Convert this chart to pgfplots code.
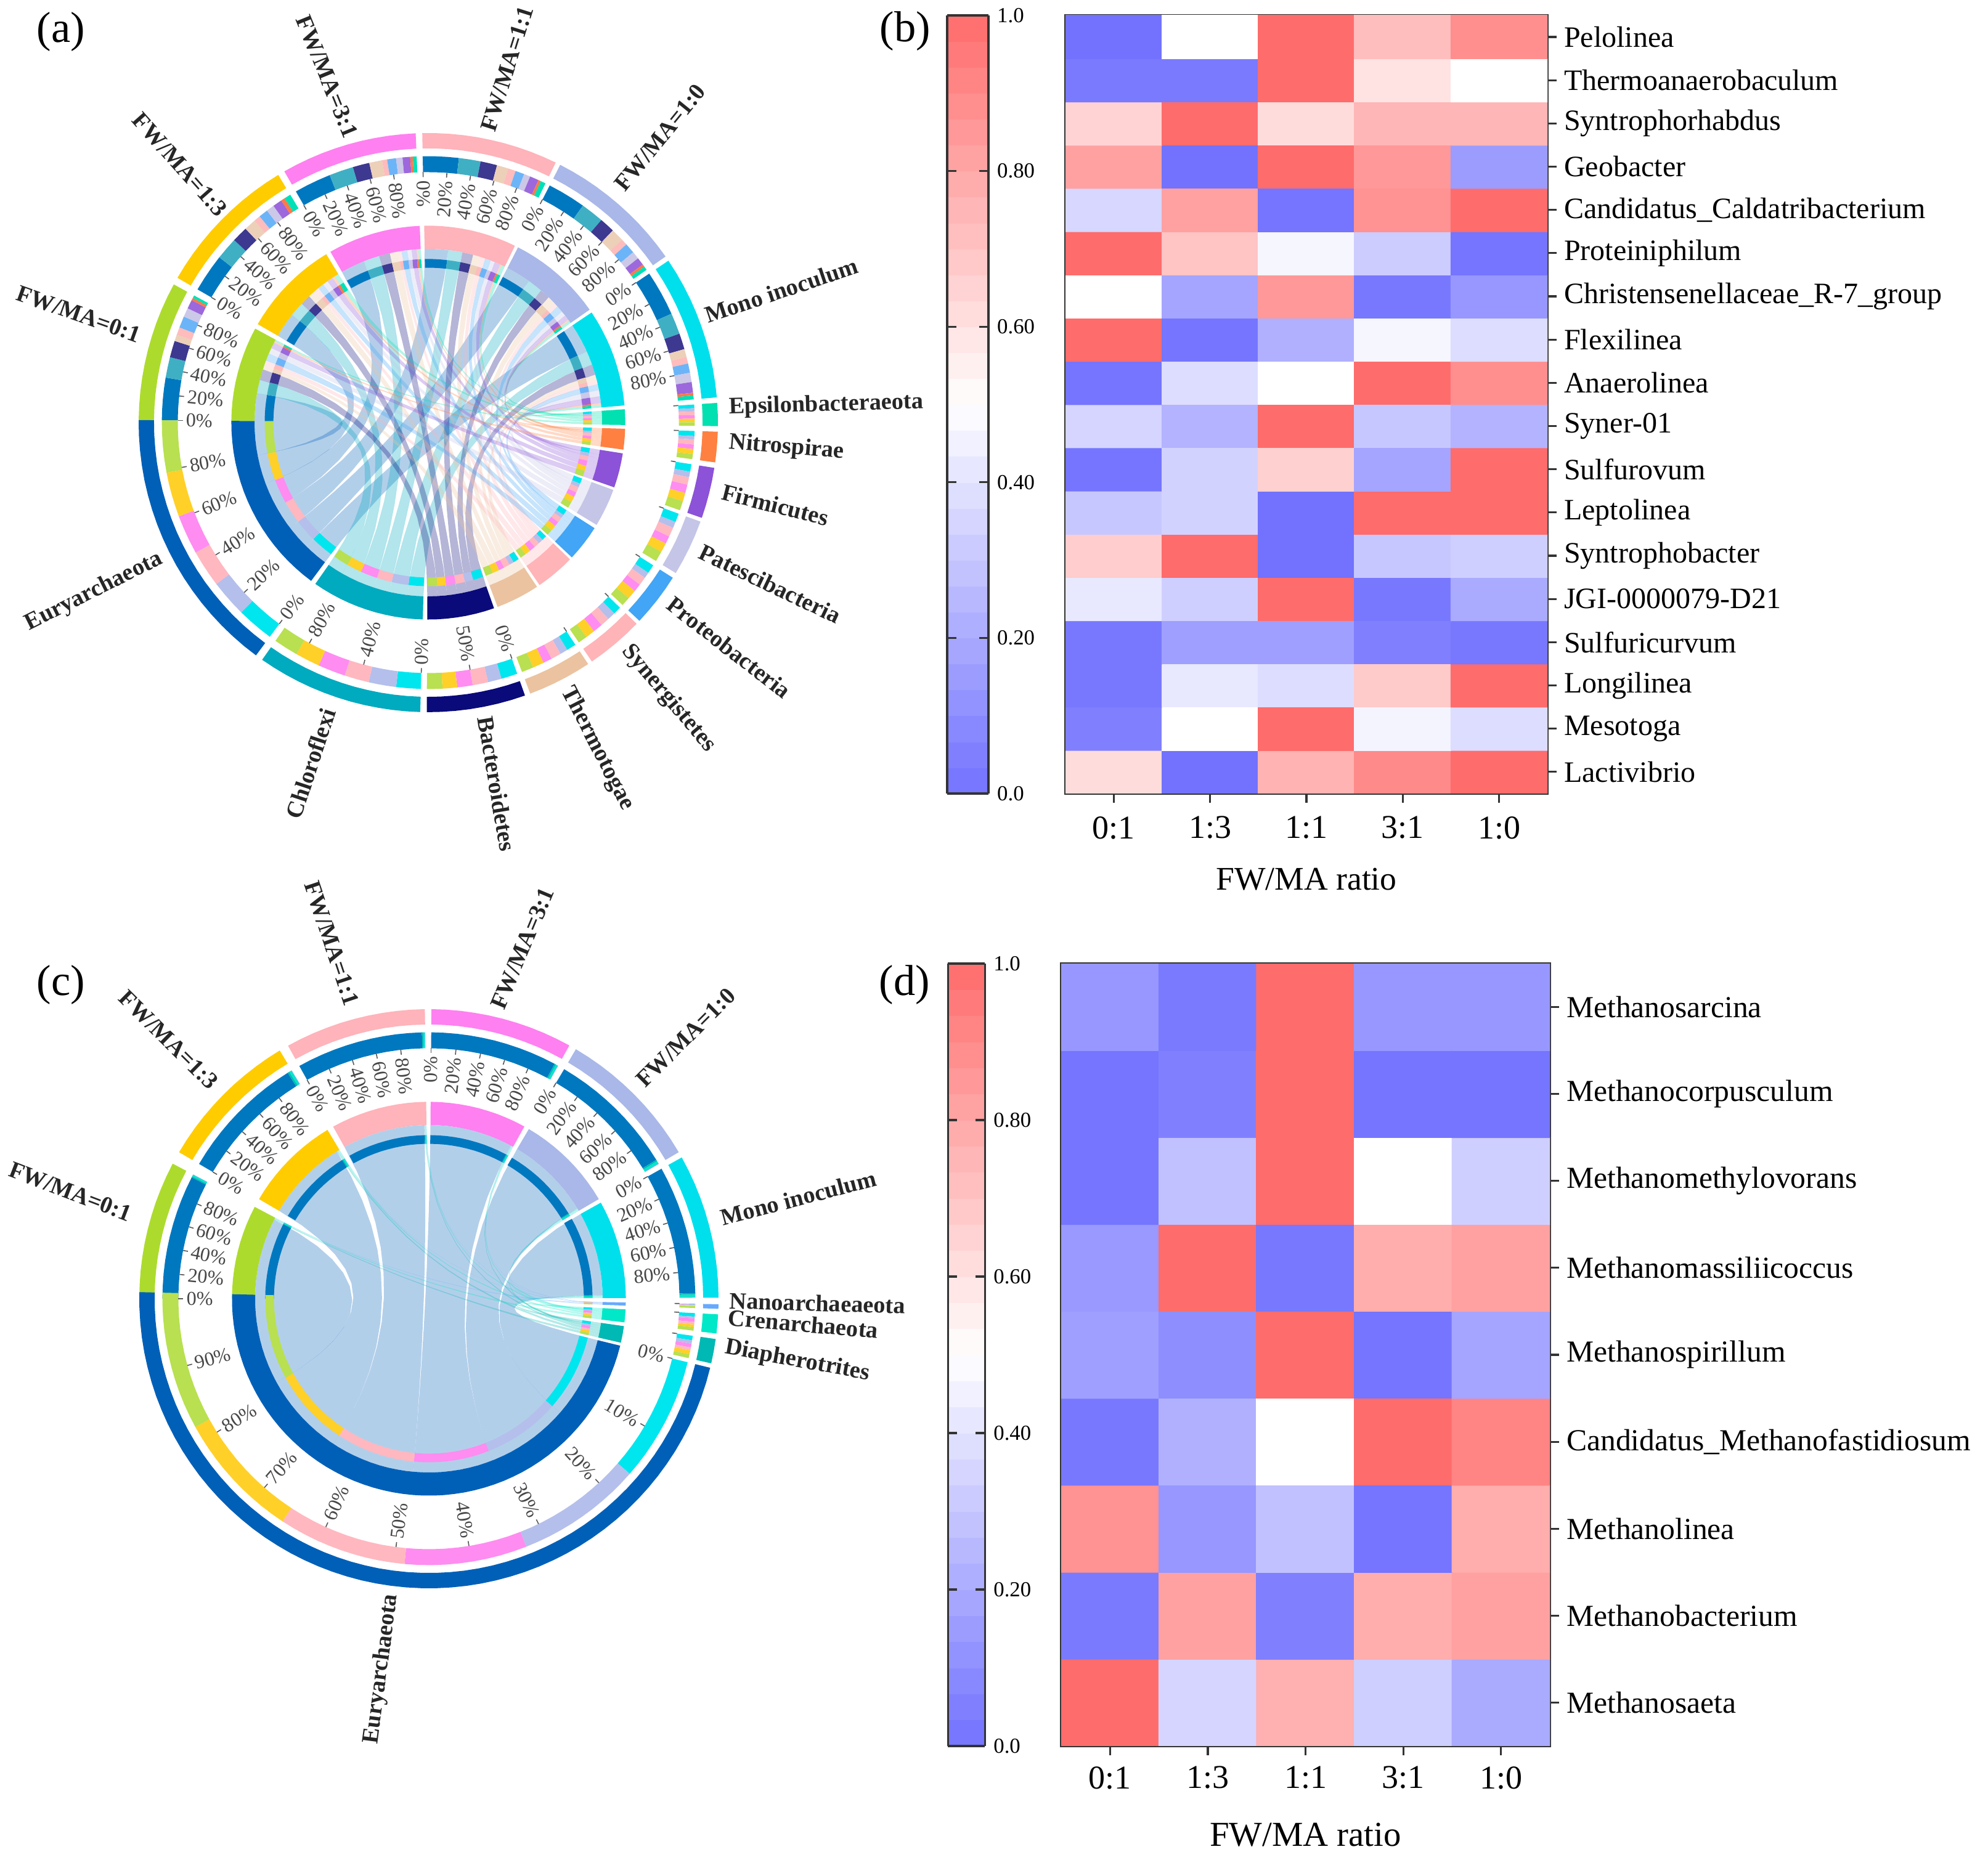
\documentclass[border=0pt]{standalone}
\usepackage{fontspec}
\setmainfont{Liberation Serif}
\usepackage{pgfplots}
\pgfplotsset{compat=1.18}

% sector colours
\definecolor{cMo}{HTML}{00E0EC}\definecolor{cT10}{HTML}{A9B8E8}\definecolor{cT11}{HTML}{FFB3BA}
\definecolor{cT31}{HTML}{FF80F0}\definecolor{cT13}{HTML}{FFCC00}\definecolor{cT01}{HTML}{ADDB2D}
\definecolor{cE}{HTML}{0060B8}\definecolor{cC}{HTML}{00AABF}\definecolor{cB}{HTML}{0A0A7A}
\definecolor{cTh}{HTML}{EBC3A0}\definecolor{cSy}{HTML}{FFB4B8}\definecolor{cPr}{HTML}{42A5F5}
\definecolor{cPa}{HTML}{C5C5E8}\definecolor{cFi}{HTML}{8C52D8}\definecolor{cNi}{HTML}{FF8040}
\definecolor{cEp}{HTML}{00E0B0}\definecolor{cDi}{HTML}{00B8B4}\definecolor{cCr}{HTML}{00E8C8}
\definecolor{cNa}{HTML}{66AAFF}
% sub-segment colours (inner and second ring)
\definecolor{sMo}{HTML}{00E6EE}\definecolor{sT10}{HTML}{B4BFEC}\definecolor{sT11}{HTML}{FFB8C0}
\definecolor{sT31}{HTML}{FF8CF0}\definecolor{sT13}{HTML}{FFD028}\definecolor{sT01}{HTML}{B8E050}
\definecolor{sE}{HTML}{0078C0}\definecolor{sC}{HTML}{3FB0C4}\definecolor{sB}{HTML}{3D3890}
\definecolor{sTh}{HTML}{ECD0B8}\definecolor{sSy}{HTML}{FFBCBC}\definecolor{sPr}{HTML}{6CB4F8}
\definecolor{sPa}{HTML}{CCC8E8}\definecolor{sFi}{HTML}{9C68DC}\definecolor{sNi}{HTML}{FF7A48}
\definecolor{sEp}{HTML}{00E0B8}\definecolor{sDi}{HTML}{00BCB4}\definecolor{sCr}{HTML}{00E8C8}
\definecolor{sNa}{HTML}{66AAFF}
\definecolor{axcol}{HTML}{333333}

\tikzset{
  pctlabel/.style={inner sep=0pt,font=\fontsize{8}{9}\selectfont,text=black!72},
  seclabel/.style={inner sep=0pt,font=\fontsize{9.6}{11}\selectfont\bfseries,text=black!85},
  panel/.style={inner sep=0pt,font=\fontsize{17.6}{20}\selectfont},
}
\pgfplotsset{
  canvas/.style={at={(0pt,0pt)},anchor=south west,scale only axis,width=806.5pt,height=754.75pt,
    xmin=0,xmax=3226,ymin=0,ymax=3019,axis lines=none,clip=false},
  heat/.style={anchor=south west,scale only axis,xmin=-.5,xmax=4.5,
    colormap={bwr}{rgb255=(114,114,255) rgb255=(255,255,255) rgb255=(255,108,108)},
    point meta min=0,point meta max=1,
    xtick={0,...,4},xticklabels={0:1,1:3,1:1,3:1,1:0},
    xtick pos=bottom,ytick pos=right,yticklabel pos=right,tick align=outside,
    major tick length=3.75pt,
    tick style={draw=axcol,line width=.8pt},
    axis line style={draw=axcol,line width=.8pt},
    x tick label style={font=\fontsize{13.5}{15}\selectfont,yshift=-2pt},
    y tick label style={font=\fontsize{12}{14}\selectfont,xshift=-.5pt},
    xlabel={FW/MA ratio},
    xlabel style={font=\fontsize{13.4}{15}\selectfont,yshift=-5pt},
    colorbar sampled,
  },
  cbar/.style={ytick={0,.2,.4,.6,.8,1},yticklabels={0.0,0.20,0.40,0.60,0.80,1.0},
    samples=31,
    major tick length=3.75pt,
    tick style={draw=axcol,line width=.8pt},
    axis line style={draw=axcol,line width=.8pt},
    y tick label style={font=\fontsize{8.7}{10}\selectfont},
  },
}

\newcount\kk
\newcount\ii
\def\A#1#2{\csname a#1/#2\endcsname}
\def\B#1#2{\csname b#1/#2\endcsname}
\def\Sa#1{\csname s#1\endcsname}
\def\Se#1{\csname e#1\endcsname}

% sector: id, start angle, end angle (clockwise), shares of its sub-segments
\newcommand\defsector[4]{%
  \expandafter\xdef\csname s#1\endcsname{#2}%
  \expandafter\xdef\csname e#1\endcsname{#3}%
  \gdef\tot{0}\foreach \v in {#4}{\xdef\tot{\fpeval{\tot+\v}}}%
  \gdef\cum{0}\global\ii=0
  \foreach \v in {#4}{%
    \global\advance\ii by 1
    \expandafter\xdef\csname a#1/\the\ii\endcsname{\fpeval{round((#2)+((#3)-(#2))*\cum/\tot,3)}}%
    \xdef\cum{\fpeval{\cum+\v}}%
    \expandafter\xdef\csname b#1/\the\ii\endcsname{\fpeval{round((#2)+((#3)-(#2))*\cum/\tot,3)}}%
  }%
}
\newcommand\arcpts[3]{%
  \edef\nn{\fpeval{max(1,ceil(abs((#2)-(#1))/3))}}%
  \kk=0
  \loop
    \edef\pts{\pts(\fpeval{round(\cx+(#3)*\R*cosd((#1)+((#2)-(#1))*\the\kk/\nn),1)},\fpeval{round(\cy+(#3)*\R*sind((#1)+((#2)-(#1))*\the\kk/\nn),1)}) }%
  \ifnum\kk<\nn\relax\advance\kk by 1 \repeat
}
% quadratic curve from angle #1 to angle #2 with the centre as control point
\newcommand\bezpts[2]{%
  \kk=1
  \loop
    \edef\uu{\fpeval{\the\kk/12}}%
    \edef\pts{\pts(\fpeval{round(\cx+.6*\R*((1-\uu)^2*cosd(#1)+\uu^2*cosd(#2)),1)},\fpeval{round(\cy+.6*\R*((1-\uu)^2*sind(#1)+\uu^2*sind(#2)),1)}) }%
  \ifnum\kk<11 \advance\kk by 1 \repeat
}
\newcommand\ring[5]{%
  \def\pts{}\arcpts{#1}{#2}{#4}\arcpts{#2}{#1}{#3}%
  \edef\temp{\noexpand\addplot[draw=none,fill=#5,forget plot] coordinates {\pts};}\temp
}
\newcommand\chord[5]{%
  \def\pts{}\arcpts{#1}{#2}{.6}\bezpts{#2}{#3}\arcpts{#3}{#4}{.6}\bezpts{#4}{#1}%
  \edef\temp{\noexpand\addplot[draw=none,fill=#5,fill opacity=.3,forget plot] coordinates {\pts};}\temp
}
\newcommand\drawpanel[2]{%
  \foreach \j/\ph in {#2}{\foreach \i/\tr in {#1}{%
    \chord{\A{\tr}{\j}}{\B{\tr}{\j}}{\A{\ph}{\i}}{\B{\ph}{\i}}{c\ph}}}%
  \foreach \j/\ph in {#2}{\foreach \i/\tr in {#1}{%
    \ring{\A{\tr}{\j}}{\B{\tr}{\j}}{.535}{.565}{s\ph}%
    \ring{\A{\tr}{\j}}{\B{\tr}{\j}}{.865}{.92}{s\ph}%
    \ring{\A{\ph}{\i}}{\B{\ph}{\i}}{.535}{.565}{s\tr}%
    \ring{\A{\ph}{\i}}{\B{\ph}{\i}}{.865}{.92}{s\tr}}}%
  \foreach \j/\ph in {#1,#2}{%
    \ring{\Sa{\ph}}{\Se{\ph}}{.60}{.68}{c\ph}%
    \ring{\Sa{\ph}}{\Se{\ph}}{.947}{1}{c\ph}}%
}
% tick on the second ring: sector, fraction, label (empty for none)
\newcommand\pct[3]{%
  \edef\tang{\fpeval{\Sa{#1}+(\Se{#1}-\Sa{#1})*#2}}%
  \edef\temp{\noexpand\addplot[draw=black!65,line width=.4pt,forget plot] coordinates {%
    (\fpeval{round(\cx+.865*\R*cosd(\tang),1)},\fpeval{round(\cy+.865*\R*sind(\tang),1)})
    (\fpeval{round(\cx+.848*\R*cosd(\tang),1)},\fpeval{round(\cy+.848*\R*sind(\tang),1)})};}\temp
  \if\relax\detokenize{#3}\relax\else
    \ifnum\fpeval{cosd(\tang)<0}=1
      \edef\rot{\fpeval{round(\tang-180,2)}}\def\anc{west}%
    \else
      \edef\rot{\fpeval{round(\tang,2)}}\def\anc{east}%
    \fi
    \edef\temp{\noexpand\node[pctlabel,rotate=\rot,anchor=\anc] at (axis cs:\fpeval{round(\cx+.838*\R*cosd(\tang),1)},\fpeval{round(\cy+.838*\R*sind(\tang),1)}) {#3\noexpand\%};}\temp
  \fi
}
\newcommand\fivepct[1]{\pct{#1}{0}{0}\pct{#1}{.2}{20}\pct{#1}{.4}{40}\pct{#1}{.6}{60}\pct{#1}{.8}{80}}
% radial name of a sector: id, text, shift x, shift y (px), extra rotation
\newcommand\seclab[5]{%
  \edef\tang{\fpeval{(\Sa{#1}+\Se{#1})/2}}%
  \ifnum\fpeval{cosd(\tang)<0}=1
    \edef\rot{\fpeval{round(\tang+180+(#5),2)}}\def\anc{east}%
  \else
    \edef\rot{\fpeval{round(\tang+(#5),2)}}\def\anc{west}%
  \fi
  \edef\temp{\noexpand\node[seclabel,rotate=\rot,anchor=\anc] at (axis cs:\fpeval{round(\cx+1.028*\R*cosd(\tang)+(#3),1)},\fpeval{round(\cy+1.028*\R*sind(\tang)+(#4),1)}) {\unexpanded{#2}};}\temp
}

\begin{document}
\begin{tikzpicture}
\path[use as bounding box] (0pt,0pt) rectangle (806.5pt,754.75pt);

% ---------- panel (a)
\defsector{Mo}{34}{5}{.34,.16,.12,.06,.05,.07,.07,.08,.02,.03}
\defsector{T10}{62.9}{35}{.30,.18,.12,.10,.05,.08,.06,.06,.02,.03}
\defsector{T11}{91.2}{63.9}{.28,.17,.13,.09,.06,.07,.05,.07,.02,.04}
\defsector{T31}{119.8}{92.5}{.29,.19,.13,.10,.04,.07,.05,.06,.02,.03}
\defsector{T13}{150}{121.2}{.29,.17,.12,.09,.05,.07,.06,.07,.03,.05}
\defsector{T01}{179.5}{151.5}{.33,.16,.13,.05,.06,.09,.07,.07,.02,.02}
\defsector{E}{-126.5}{-180.5}{.15,.15,.15,.16,.18,.21}
\defsector{C}{-91.6}{-125}{.16,.18,.16,.18,.16,.16}
\defsector{B}{-70.5}{-90.3}{.18,.15,.17,.17,.16,.17}
\defsector{Th}{-56.5}{-69.4}{.16,.13,.17,.15,.19,.20}
\defsector{Sy}{-44}{-55.6}{.15,.15,.17,.18,.18,.17}
\defsector{Pr}{-32.4}{-43.2}{.18,.12,.17,.16,.19,.18}
\defsector{Pa}{-20}{-31.3}{.17,.12,.18,.15,.18,.20}
\defsector{Fi}{-9}{-19.2}{.16,.12,.16,.18,.18,.20}
\defsector{Ni}{-1.8}{-7.9}{.18,.12,.18,.16,.18,.18}
\defsector{Ep}{3.9}{-.7}{.17,.15,.17,.17,.17,.17}

\begin{axis}[canvas]
\def\cx{695}\def\cy{2333}\def\R{470}
\drawpanel{1/Mo,2/T10,3/T11,4/T31,5/T13,6/T01}{1/E,2/C,3/B,4/Th,5/Sy,6/Pr,7/Pa,8/Fi,9/Ni,10/Ep}
\fivepct{Mo}\fivepct{T10}\fivepct{T11}\fivepct{T31}\fivepct{T13}\fivepct{T01}\fivepct{E}
\pct{C}{0}{0}\pct{C}{.4}{40}\pct{C}{.8}{80}
\pct{B}{0}{0}\pct{B}{.5}{50}
\pct{Th}{0}{}\pct{Sy}{0}{}\pct{Pr}{0}{}\pct{Pa}{0}{}\pct{Fi}{0}{}\pct{Ni}{0}{}\pct{Ep}{0}{}
\seclab{Mo}{Mono inoculum}{-6}{12}{-1}
\seclab{T10}{FW/MA=1:0}{-8}{16}{2}
\seclab{T11}{FW/MA=1:1}{-8}{2}{-5}
\seclab{T31}{FW/MA=3:1}{10}{0}{6}
\seclab{T13}{FW/MA=1:3}{12}{2}{-4}
\seclab{T01}{FW/MA=0:1}{0}{20}{-5}
\seclab{E}{Euryarchaeota}{0}{-4}{0}
\seclab{C}{Chloroflexi}{-10}{-6}{0}
\seclab{B}{Bacteroidetes}{12}{0}{0}
\seclab{Th}{Thermotogae}{4}{0}{0}
\seclab{Sy}{Synergistetes}{8}{4}{0}
\seclab{Pr}{Proteobacteria}{10}{6}{0}
\seclab{Pa}{Patescibacteria}{6}{2}{0}
\seclab{Fi}{Firmicutes}{8}{6}{0}
\seclab{Ni}{Nitrospirae}{6}{8}{0}
\seclab{Ep}{Epsilonbacteraeota}{4}{10}{0}
\node[panel] at (axis cs:99,2967) {(a)};
\node[panel] at (axis cs:1469,2968) {(b)};
\node[panel] at (axis cs:99,1420) {(c)};
\node[panel] at (axis cs:1468,1420) {(d)};
\end{axis}

% ---------- panel (c)
\defsector{Mo}{29.2}{.2}{.965,.012,.018,.005}
\defsector{T10}{59.5}{30.4}{.965,.012,.018,.005}
\defsector{T31}{89.5}{61}{.97,.012,.014,.004}
\defsector{T11}{119.1}{90.8}{.975,.01,.012,.003}
\defsector{T13}{149.6}{121}{.965,.014,.017,.004}
\defsector{T01}{180}{152.2}{.975,.01,.012,.003}
\defsector{E}{-13.8}{-181.3}{27.2,27.4,26.6,28,27.8,30}
\defsector{Di}{-8}{-12.9}{.2,.15,.17,.13,.18,.17}
\defsector{Cr}{-3.1}{-6.9}{.2,.1,.2,.15,.15,.2}
\defsector{Na}{-1.1}{-2}{.1,.1,.1,.1,.1,.5}

\begin{axis}[canvas]
\def\cx{696}\def\cy{911}\def\R{470}
\drawpanel{1/Mo,2/T10,3/T31,4/T11,5/T13,6/T01}{1/E,2/Di,3/Cr,4/Na}
\fivepct{Mo}\fivepct{T10}\fivepct{T31}\fivepct{T11}\fivepct{T13}\fivepct{T01}
\pct{E}{0}{0}\pct{E}{.1}{10}\pct{E}{.2}{20}\pct{E}{.3}{30}\pct{E}{.4}{40}
\pct{E}{.5}{50}\pct{E}{.6}{60}\pct{E}{.7}{70}\pct{E}{.8}{80}\pct{E}{.9}{90}
\pct{Di}{0}{}\pct{Cr}{0}{}\pct{Na}{0}{}
\seclab{Mo}{Mono inoculum}{6}{8}{0}
\seclab{T10}{FW/MA=1:0}{0}{8}{0}
\seclab{T31}{FW/MA=3:1}{-12}{4}{-8}
\seclab{T11}{FW/MA=1:1}{0}{10}{3.5}
\seclab{T13}{FW/MA=1:3}{-4}{6}{0}
\seclab{T01}{FW/MA=0:1}{-14}{20}{-7}
\seclab{E}{Euryarchaeota}{3}{0}{0}
\seclab{Di}{Diapherotrites}{5}{8}{0}
\seclab{Cr}{Crenarchaeota}{4}{12}{0}
\seclab{Na}{Nanoarchaeaeota}{4}{10}{0}
\end{axis}

% ---------- panel (b)
\begin{axis}[heat,at={(432.25pt,432.75pt)},width=195.5pt,height=315.75pt,ymin=-.5,ymax=17.5,
  ytick={0,...,17},
  yticklabels={Lactivibrio,Mesotoga,Longilinea,Sulfuricurvum,JGI-0000079-D21,Syntrophobacter,Leptolinea,Sulfurovum,Syner-01,Anaerolinea,Flexilinea,Christensenellaceae\_R-7\_group,Proteiniphilum,Candidatus\_Caldatribacterium,Geobacter,Syntrophorhabdus,Thermoanaerobaculum,Pelolinea},
  colorbar style={at={(-.2455,1)},anchor=north west,width=16.75pt,cbar},
]
\addplot[matrix plot*,mesh/cols=5,point meta=explicit] coordinates {
 (0,0)[.62] (1,0)[.0] (2,0)[.76] (3,0)[.90] (4,0)[1]
 (0,1)[.05] (1,1)[.5] (2,1)[1] (3,1)[.46] (4,1)[.38]
 (0,2)[.02] (1,2)[.42] (2,2)[.38] (3,2)[.68] (4,2)[1]
 (0,3)[.02] (1,3)[.16] (2,3)[.16] (3,3)[.05] (4,3)[.02]
 (0,4)[.42] (1,4)[.33] (2,4)[1] (3,4)[.02] (4,4)[.20]
 (0,5)[.67] (1,5)[1] (2,5)[.0] (3,5)[.30] (4,5)[.33]
 (0,6)[.30] (1,6)[.34] (2,6)[.0] (3,6)[1] (4,6)[1]
 (0,7)[.01] (1,7)[.34] (2,7)[.66] (3,7)[.18] (4,7)[1]
 (0,8)[.35] (1,8)[.23] (2,8)[1] (3,8)[.30] (4,8)[.23]
 (0,9)[.01] (1,9)[.38] (2,9)[.5] (3,9)[1] (4,9)[.88]
 (0,10)[1] (1,10)[.01] (2,10)[.22] (3,10)[.47] (4,10)[.38]
 (0,11)[.5] (1,11)[.18] (2,11)[.85] (3,11)[.02] (4,11)[.13]
 (0,12)[1] (1,12)[.70] (2,12)[.47] (3,12)[.32] (4,12)[.01]
 (0,13)[.36] (1,13)[.82] (2,13)[.01] (3,13)[.87] (4,13)[1]
 (0,14)[.82] (1,14)[.0] (2,14)[1] (3,14)[.85] (4,14)[.15]
 (0,15)[.65] (1,15)[1] (2,15)[.62] (3,15)[.75] (4,15)[.75]
 (0,16)[.03] (1,16)[.03] (2,16)[1] (3,16)[.60] (4,16)[.5]
 (0,17)[.0] (1,17)[.5] (2,17)[1] (3,17)[.72] (4,17)[.88]
};
\end{axis}

% ---------- panel (d)
\begin{axis}[heat,at={(430.5pt,46.25pt)},width=198.25pt,height=317.5pt,ymin=-.5,ymax=8.5,
  ytick={0,...,8},
  y tick label style={font=\fontsize{12.4}{14}\selectfont},
  x tick label style={yshift=1pt},
  xlabel style={font=\fontsize{14.2}{16}\selectfont,yshift=-2pt},
  yticklabels={Methanosaeta,Methanobacterium,Methanolinea,Candidatus\_Methanofastidiosum,Methanospirillum,Methanomassiliicoccus,Methanomethylovorans,Methanocorpusculum,Methanosarcina},
  colorbar style={at={(-.2317,1)},anchor=north west,width=15pt,cbar},
]
\addplot[matrix plot*,mesh/cols=5,point meta=explicit] coordinates {
 (0,0)[1] (1,0)[.35] (2,0)[.77] (3,0)[.33] (4,0)[.20]
 (0,1)[.03] (1,1)[.82] (2,1)[.05] (3,1)[.78] (4,1)[.82]
 (0,2)[.87] (1,2)[.13] (2,2)[.28] (3,2)[.01] (4,2)[.78]
 (0,3)[.02] (1,3)[.22] (2,3)[.5] (3,3)[1] (4,3)[.92]
 (0,4)[.16] (1,4)[.10] (2,4)[1] (3,4)[.01] (4,4)[.18]
 (0,5)[.14] (1,5)[1] (2,5)[.02] (3,5)[.78] (4,5)[.82]
 (0,6)[.01] (1,6)[.28] (2,6)[1] (3,6)[.5] (4,6)[.33]
 (0,7)[.01] (1,7)[.05] (2,7)[1] (3,7)[.01] (4,7)[.01]
 (0,8)[.13] (1,8)[.03] (2,8)[1] (3,8)[.13] (4,8)[.13]
};
\end{axis}
\end{tikzpicture}
\end{document}
